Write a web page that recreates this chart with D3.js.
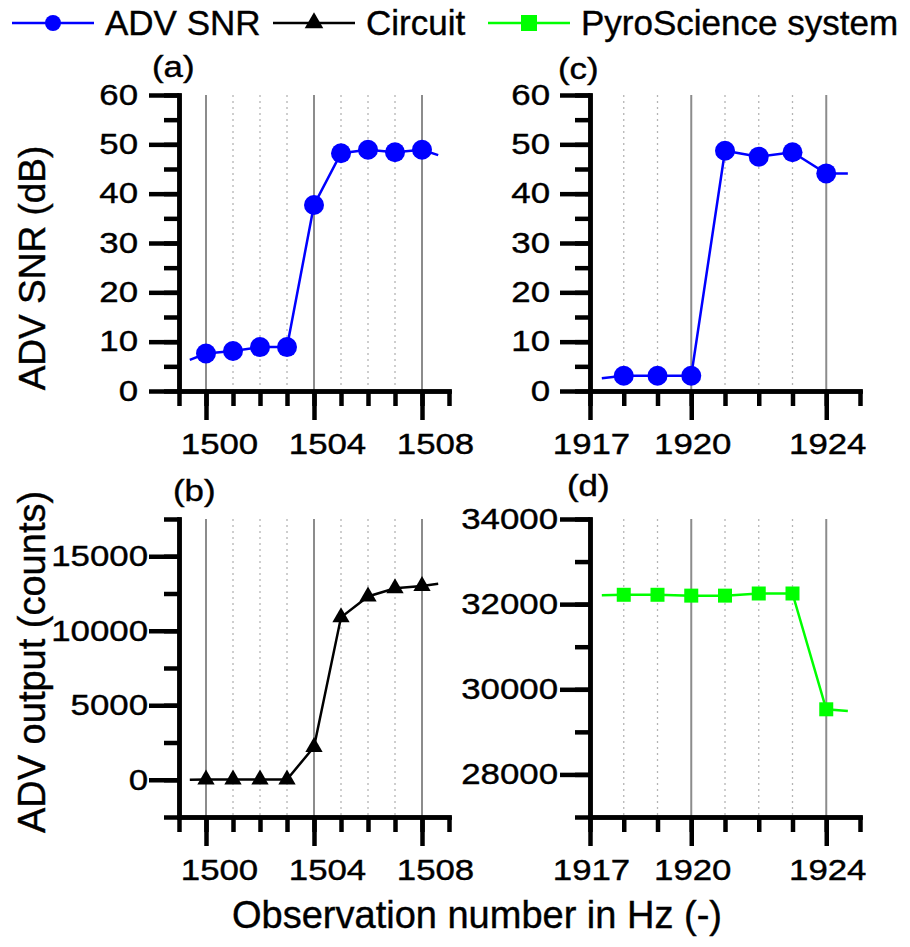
<!DOCTYPE html>
<html>
<head>
<meta charset="utf-8">
<script src="https://cdn.jsdelivr.net/npm/d3@7"></script>
<style>
  body { margin: 0; background: #fff; }
  svg { font-family: Arial, "Liberation Sans", sans-serif; }
  svg text { stroke: #000; stroke-width: 0.4px; }
</style>
</head>
<body>
<div id="chart"></div>
<script>
// series names (legend)
const seriesNames = ["ADV SNR", "Circuit", "PyroScience system"];
const seriesColors = ["#0000ff", "#000000", "#00ff00"];

// left column: observations 1500-1508 (first/last points are line ends, no marker)
const obsLeft = [1499.4, 1500, 1501, 1502, 1503, 1504, 1505, 1506, 1507, 1508, 1508.6];
const snrLeft = [6.3, 7.6, 8.1, 8.9, 8.9, 37.7, 48.2, 48.9, 48.4, 48.9, 47.8];
const circuitLeft = [0, 20, 20, 20, 20, 2200, 10900, 12300, 12850, 13000, 13150];

// right column: observations 1918-1924
const obsRight = [1917.35, 1918, 1919, 1920, 1921, 1922, 1923, 1924, 1924.64];
const snrRight = [2.6, 3.1, 3.1, 3.1, 48.7, 47.5, 48.4, 44.1, 44.1];
const pyroRight = [32210, 32220, 32220, 32200, 32200, 32250, 32250, 29530, 29490];

// ticks
const xMajorLeft = [1500, 1504, 1508];
const xMajorRight = [1917, 1920, 1924];
const ySnrMajor = [0, 10, 20, 30, 40, 50, 60];
const yCircuitMajor = [0, 5000, 10000, 15000];
const yPyroMajor = [28000, 30000, 32000, 34000];

const W = 910, H = 947;
const svg = d3.select("#chart").append("svg")
    .attr("width", W)
    .attr("height", H);

const SX = 1.2; // tick text is drawn a little wider than Arial

function stretch(sel) {
    sel.each(function() {
        const w = this.getComputedTextLength();
        d3.select(this).attr("textLength", w * SX).attr("lengthAdjust", "spacingAndGlyphs");
    });
}

function panel(opt) {
    const x = d3.scaleLinear().domain(opt.xDomain).range([opt.left, opt.right]);
    const y = d3.scaleLinear().domain(opt.yDomain).range([opt.bottom, opt.top]);
    const g = svg.append("g");

    // vertical grid lines
    const xMinor = d3.range(opt.xDomain[0], opt.xDomain[1] + 1);
    xMinor.forEach(v => {
        if (v === opt.xDomain[0] || v === opt.xDomain[1]) return;
        const major = opt.xMajor.includes(v);
        g.append("line")
            .attr("x1", x(v)).attr("x2", x(v))
            .attr("y1", opt.top).attr("y2", opt.bottom)
            .attr("stroke", major ? "#8c8c8c" : "#b4b4b4")
            .attr("stroke-width", major ? 2 : 1.3)
            .attr("stroke-dasharray", major ? null : "2,4");
    });

    // line
    const pts = opt.xs.map((d, i) => [d, opt.ys[i]]);
    g.append("path")
        .datum(pts)
        .attr("fill", "none")
        .attr("stroke", opt.color)
        .attr("stroke-width", 2.5)
        .attr("d", d3.line()
            .x(d => x(d[0]))
            .y(d => y(d[1])));

    // markers only at whole observation numbers
    const marks = pts.filter(d => Number.isInteger(d[0]));
    g.selectAll(".mk").data(marks).enter().append("path")
        .attr("transform", d => "translate(" + x(d[0]) + "," + y(d[1]) + ")")
        .attr("d", d3.symbol().type(opt.symbol).size(opt.symbolSize))
        .attr("fill", opt.color);

    // axes: minor ticks first, then major with labels
    const yMinor = d3.range(opt.yDomain[0], opt.yDomain[1] + opt.yStep / 2, opt.yStep);
    const axes = g.append("g").attr("class", "axes");
    axes.append("g")
        .attr("transform", "translate(0," + opt.bottom + ")")
        .call(d3.axisBottom(x).tickValues(xMinor).tickSize(15).tickSizeOuter(0).tickFormat(""));
    const xa = axes.append("g")
        .attr("transform", "translate(0," + opt.bottom + ")")
        .call(d3.axisBottom(x).tickValues(opt.xMajor).tickSize(29).tickSizeOuter(0).tickFormat(d3.format("d")));

    axes.append("g")
        .attr("transform", "translate(" + opt.left + ",0)")
        .call(d3.axisLeft(y).tickValues(yMinor).tickSize(15).tickSizeOuter(0).tickFormat(""));
    const ya = axes.append("g")
        .attr("transform", "translate(" + opt.left + ",0)")
        .call(d3.axisLeft(y).tickValues(opt.yMajor).tickSize(30).tickSizeOuter(0).tickFormat(d3.format("d")));

    axes.selectAll("path.domain")
        .style("stroke", "#000").style("stroke-width", "4.5px").style("stroke-linecap", "square");
    axes.selectAll("g.tick line")
        .style("stroke", "#000").style("stroke-width", "4.5px");
    axes.selectAll("g.tick text")
        .style("font-size", "29px")
        .style("font-family", "Arial, 'Liberation Sans', sans-serif")
        .style("fill", "#000");

    xa.selectAll("text").attr("x", opt.xLabelShift).attr("y", 63).attr("dy", 0).call(stretch);
    ya.selectAll("text").attr("x", -(30 + opt.labelPad)).call(stretch);

    // panel letter
    g.append("text")
        .attr("x", opt.tagX).attr("y", opt.tagY)
        .style("font-size", "29px")
        .text(opt.tag)
        .call(stretch);
}

panel({ xDomain: [1499, 1509], yDomain: [0, 60], yStep: 5, left: 179, right: 449, top: 95, bottom: 391,
        xMajor: xMajorLeft, yMajor: ySnrMajor, xs: obsLeft, ys: snrLeft, color: seriesColors[0],
        symbol: d3.symbolCircle, symbolSize: Math.PI * 100, labelPad: 11, xLabelShift: 13, tag: "(a)", tagX: 152, tagY: 77 });
panel({ xDomain: [1917, 1925], yDomain: [0, 60], yStep: 5, left: 590, right: 860, top: 95, bottom: 391,
        xMajor: xMajorRight, yMajor: ySnrMajor, xs: obsRight, ys: snrRight, color: seriesColors[0],
        symbol: d3.symbolCircle, symbolSize: Math.PI * 100, labelPad: 10, xLabelShift: 1, tag: "(c)", tagX: 558, tagY: 79 });
panel({ xDomain: [1499, 1509], yDomain: [-2500, 17500], yStep: 2500, left: 179, right: 449, top: 519, bottom: 817,
        xMajor: xMajorLeft, yMajor: yCircuitMajor, xs: obsLeft, ys: circuitLeft, color: seriesColors[1],
        symbol: d3.symbolTriangle, symbolSize: 130, labelPad: 1, xLabelShift: 13, tag: "(b)", tagX: 173, tagY: 501 });
panel({ xDomain: [1917, 1925], yDomain: [27000, 34000], yStep: 1000, left: 590, right: 860, top: 519, bottom: 817,
        xMajor: xMajorRight, yMajor: yPyroMajor, xs: obsRight, ys: pyroRight, color: seriesColors[2],
        symbol: d3.symbolSquare, symbolSize: 196, labelPad: 2, xLabelShift: 1, tag: "(d)", tagX: 567, tagY: 496 });

// axis titles
svg.append("text")
    .attr("transform", "translate(45,268) rotate(-90)")
    .attr("text-anchor", "middle")
    .style("font-size", "37px")
    .text("ADV SNR (dB)");
svg.append("text")
    .attr("transform", "translate(45,662) rotate(-90)")
    .attr("text-anchor", "middle")
    .style("font-size", "38px")
    .text("ADV output (counts)");
svg.append("text")
    .attr("x", 477).attr("y", 928)
    .attr("text-anchor", "middle")
    .style("font-size", "38px")
    .text("Observation number in Hz (-)");

// legend
const legendX = [12, 273, 488];
const legendSymbols = [d3.symbolCircle, d3.symbolTriangle, d3.symbolSquare];
const legendSizes = [Math.PI * 64, 150, 256];
const lg = svg.append("g");
seriesNames.forEach((name, i) => {
    const x0 = legendX[i];
    lg.append("line")
        .attr("x1", x0).attr("x2", x0 + 82)
        .attr("y1", 23).attr("y2", 23)
        .attr("stroke", seriesColors[i]).attr("stroke-width", 2.5);
    lg.append("path")
        .attr("transform", "translate(" + (x0 + 41) + ",23)")
        .attr("d", d3.symbol().type(legendSymbols[i]).size(legendSizes[i]))
        .attr("fill", seriesColors[i]);
    lg.append("text")
        .attr("x", x0 + 93).attr("y", 35)
        .style("font-size", "35px")
        .text(name);
});
</script>
</body>
</html>
